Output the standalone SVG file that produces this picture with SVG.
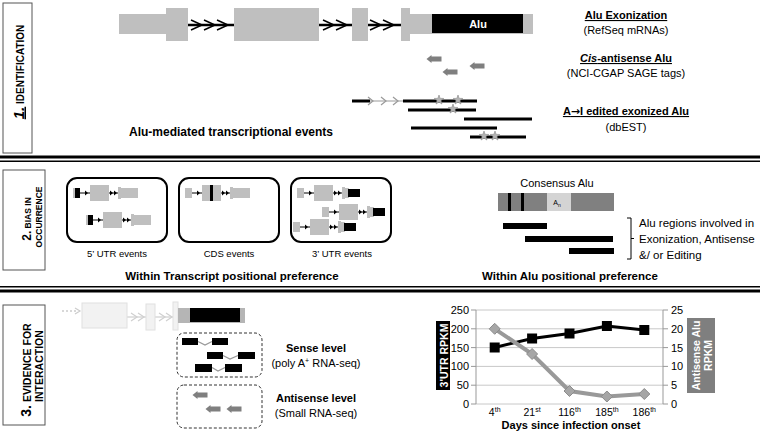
<svg xmlns="http://www.w3.org/2000/svg" width="760" height="435" viewBox="0 0 760 435">
<style>
text{font-family:"Liberation Sans",Arial,sans-serif;fill:#000}
.b{font-weight:bold}
.ex{fill:#bfbfbf}
.ln{stroke:#000;stroke-width:2.5;fill:none}
.chev{stroke:#000;stroke-width:1.5;fill:none}
.lbl{fill:#fff;stroke:#555;stroke-width:1}
.ev{stroke:#000;stroke-width:3}
.star{fill:#b3b3b3;stroke:#888;stroke-width:0.6}
.garr{fill:#7f7f7f}
.box{fill:none;stroke:#000;stroke-width:2}
.dbox{fill:none;stroke:#333;stroke-width:1;stroke-dasharray:3,2}
.grid{stroke:#c8c8c8;stroke-width:1}
.ax{stroke:#999;stroke-width:1}
</style>
<defs>
<path id="star" class="star" d="M0,-5 L1.18,-1.62 L4.76,-1.55 L1.9,0.62 L2.94,4.05 L0,2 L-2.94,4.05 L-1.9,0.62 L-4.76,-1.55 L-1.18,-1.62 Z"/>
<path id="larr" class="garr" d="M-7.5,0 L-2.5,-4 L-2.5,-2.5 L7.5,-2.5 L7.5,2.5 L-2.5,2.5 L-2.5,4 Z"/>
<path id="chv" class="chev" d="M-11,-5 L0,0 L-11,5"/>
<path id="mtri" d="M-3,-2.5 L0,0 L-3,2.5 Z" fill="#000"/>
<g id="mini">
<rect class="ex" x="0" y="-5" width="7" height="10"/>
<line x1="7" y1="0" x2="17" y2="0" stroke="#000" stroke-width="1"/>
<use href="#mtri" x="15" y="0"/>
<rect class="ex" x="17" y="-8" width="19" height="16"/>
<line x1="36" y1="0" x2="45" y2="0" stroke="#000" stroke-width="1"/>
<use href="#mtri" x="40" y="0"/>
<use href="#mtri" x="44" y="0"/>
<rect class="ex" x="45" y="-6" width="3" height="12"/>
</g>
<g id="tail"><rect class="ex" x="48" y="-5" width="17" height="10"/></g>
<g id="tail3"><rect class="ex" x="48" y="-5" width="4" height="10"/><rect x="51" y="-4" width="12" height="8" fill="#000"/></g>
<path id="dia" d="M0,-5.5 L5.5,0 L0,5.5 L-5.5,0 Z" fill="#a6a6a6" stroke="#8c8c8c" stroke-width="1"/>
</defs>

<!-- section separators -->
<g id="separators">
<rect x="0" y="155.5" width="760" height="3" fill="#000"/>
<rect x="0" y="160.5" width="760" height="1.5" fill="#000"/>
<rect x="0" y="286" width="760" height="1.5" fill="#000"/>
<rect x="0" y="289.5" width="760" height="3" fill="#000"/>
</g>

<!-- section labels -->
<g id="label1">
<rect class="lbl" x="3" y="3" width="29" height="150"/>
<text class="b" transform="translate(23.5,72) rotate(-90)" text-anchor="middle"><tspan font-size="15" font-style="italic" text-decoration="underline">1.</tspan><tspan font-size="10"> IDENTIFICATION</tspan></text>
</g>
<g id="label2">
<rect class="lbl" x="3" y="170" width="42" height="100"/>
<text class="b" transform="translate(30.5,219) rotate(-90)" text-anchor="middle"><tspan font-size="12">2.</tspan><tspan font-size="8.5"> BIAS IN</tspan></text>
<text class="b" font-size="8.5" transform="translate(41.5,217) rotate(-90)" text-anchor="middle">OCCURRENCE</text>
</g>
<g id="label3">
<rect class="lbl" x="3" y="305" width="42" height="120"/>
<text class="b" transform="translate(30.5,370) rotate(-90)" text-anchor="middle"><tspan font-size="14">3.</tspan><tspan font-size="10.5"> EVIDENCE FOR</tspan></text>
<text class="b" font-size="10.5" transform="translate(42.5,366) rotate(-90)" text-anchor="middle">INTERACTION</text>
</g>

<!-- Section 1: gene structure -->
<g id="gene">
<line class="ln" x1="188" y1="25" x2="234" y2="25"/>
<line class="ln" x1="319" y1="25" x2="352" y2="25"/>
<line class="ln" x1="368" y1="25" x2="401" y2="25"/>
<use href="#chv" x="202" y="25"/><use href="#chv" x="215" y="25"/><use href="#chv" x="228" y="25"/>
<use href="#chv" x="334" y="25"/><use href="#chv" x="347" y="25"/>
<use href="#chv" x="381" y="25"/><use href="#chv" x="394" y="25"/>
<rect class="ex" x="119" y="14" width="47" height="20"/>
<rect class="ex" x="166" y="8" width="22" height="33"/>
<rect class="ex" x="234" y="8" width="85" height="33"/>
<rect class="ex" x="352" y="8" width="16" height="33"/>
<rect class="ex" x="401" y="8" width="9" height="33"/>
<rect class="ex" x="410" y="14" width="123" height="20"/>
<rect x="432" y="14" width="91" height="19" fill="#000"/>
<text class="b" x="478" y="28" font-size="11" text-anchor="middle" style="fill:#fff">Alu</text>
</g>

<g id="antisense-top">
<use href="#larr" x="434" y="59"/>
<use href="#larr" x="450" y="72"/>
<use href="#larr" x="477" y="66"/>
</g>

<g id="events">
<line class="ev" x1="352" y1="101" x2="370" y2="101"/>
<line x1="370" y1="101" x2="403" y2="101" stroke="#999" stroke-width="1.2"/>
<path d="M368,97 L373,101 L368,105 M381,97 L386,101 L381,105 M393,97 L398,101 L393,105" stroke="#999" stroke-width="1.2" fill="none"/>
<line class="ev" x1="403" y1="101" x2="477" y2="101"/>
<line class="ev" x1="408" y1="110" x2="476" y2="110"/>
<line class="ev" x1="464" y1="119" x2="532" y2="119"/>
<line class="ev" x1="411" y1="128" x2="497" y2="128"/>
<line class="ev" x1="470" y1="137" x2="526" y2="137"/>
<use href="#star" x="439" y="100"/>
<use href="#star" x="458" y="100"/>
<use href="#star" x="453" y="109"/>
<use href="#star" x="484" y="136"/>
<use href="#star" x="495" y="136"/>
</g>

<g id="s1-text">
<text class="b" x="626" y="19" font-size="11" text-anchor="middle" text-decoration="underline">Alu Exonization</text>
<text x="626" y="34" font-size="11" text-anchor="middle">(RefSeq mRNAs)</text>
<text class="b" x="626" y="62" font-size="11" text-anchor="middle" text-decoration="underline"><tspan font-style="italic">Cis</tspan>-antisense Alu</text>
<text x="626" y="77" font-size="11" text-anchor="middle">(NCI-CGAP SAGE tags)</text>
<text class="b" x="626" y="115" font-size="11" text-anchor="middle" text-decoration="underline">A<tspan style="font-family:'DejaVu Sans',sans-serif">→</tspan>I edited exonized Alu</text>
<text x="626" y="131" font-size="11" text-anchor="middle">(dbEST)</text>
<text class="b" x="231" y="136" font-size="12" text-anchor="middle">Alu-mediated transcriptional events</text>
</g>

<!-- Section 2 -->
<g id="box-5utr">
<rect class="box" x="67" y="178" width="100" height="64" rx="10"/>
<use href="#mini" x="73" y="193"/><use href="#tail" x="73" y="193"/>
<rect x="75" y="188" width="5" height="10" fill="#000"/>
<use href="#mini" x="86" y="220"/><use href="#tail" x="86" y="220"/>
<rect x="88" y="215" width="5" height="10" fill="#000"/>
<text x="117" y="257" font-size="9.5" text-anchor="middle">5’ UTR events</text>
</g>
<g id="box-cds">
<rect class="box" x="179" y="178" width="100" height="64" rx="10"/>
<use href="#mini" x="185" y="193"/><use href="#tail" x="185" y="193"/>
<rect x="210" y="185" width="3" height="16" fill="#000"/>
<text x="229" y="257" font-size="9.5" text-anchor="middle">CDS events</text>
</g>
<g id="box-3utr">
<rect class="box" x="291" y="178" width="100" height="64" rx="10"/>
<use href="#mini" x="297" y="193"/><use href="#tail3" x="297" y="193"/>
<use href="#mini" x="322" y="212"/><use href="#tail3" x="322" y="212"/>
<use href="#mini" x="293" y="227"/><use href="#tail3" x="293" y="227"/>
<text x="342" y="257" font-size="9.5" text-anchor="middle">3’ UTR events</text>
</g>
<text class="b" x="232" y="280" font-size="11.5" text-anchor="middle">Within Transcript positional preference</text>

<g id="consensus">
<text x="557" y="187" font-size="11" text-anchor="middle">Consensus Alu</text>
<rect x="498" y="193" width="116" height="18" fill="#808080"/>
<rect x="547" y="193" width="24" height="18" fill="#d4d4d4"/>
<rect x="508" y="193" width="3" height="18" fill="#000"/>
<rect x="521" y="193" width="3" height="18" fill="#000"/>
<text x="557" y="205" font-size="7" text-anchor="middle">A<tspan font-size="5" dy="1.5">n</tspan></text>
<rect x="503" y="223" width="44" height="6" fill="#000"/>
<rect x="525" y="236" width="88" height="6" fill="#000"/>
<rect x="569" y="248" width="45" height="6" fill="#000"/>
<path d="M627,218 L631,218 L631,259 L627,259 M631,238.5 L634,238.5" stroke="#000" stroke-width="1" fill="none"/>
<text x="639" y="227" font-size="11.5">Alu regions involved in</text>
<text x="639" y="243" font-size="11.5">Exonization, Antisense</text>
<text x="639" y="259" font-size="11.5">&amp;/ or Editing</text>
<text class="b" x="482" y="280" font-size="11.5">Within Alu positional preference</text>
</g>

<!-- Section 3 -->
<g id="gene-faded">
<path d="M62,311 L76,311" stroke="#ccc" stroke-width="1.5" stroke-dasharray="2,2"/>
<path d="M75,308 L80,311 L75,314" stroke="#ccc" stroke-width="1.2" fill="none"/>
<line x1="127" y1="317" x2="146" y2="317" stroke="#d9d9d9" stroke-width="1.5"/>
<line x1="155" y1="317" x2="173" y2="317" stroke="#d9d9d9" stroke-width="1.5"/>
<path d="M131,313 L137,317 L131,321 M138,313 L144,317 L138,321 M159,313 L165,317 L159,321 M166,313 L172,317 L166,321" stroke="#d0d0d0" stroke-width="1.2" fill="none"/>
<rect x="82" y="303" width="45" height="25" fill="#f2f2f2" stroke="#e0e0e0"/>
<rect x="146" y="304" width="9" height="26" fill="#f2f2f2" stroke="#e0e0e0"/>
<rect x="173" y="302" width="5" height="28" fill="#f2f2f2" stroke="#e0e0e0"/>
<rect x="178" y="308" width="67" height="15" fill="#b5b5b5"/>
<rect x="190" y="308" width="50" height="14" fill="#000"/>
</g>

<g id="sense-box">
<rect class="dbox" x="177" y="333" width="85" height="44" rx="7"/>
<path d="M198,341.5 L205,345 L212,341.5" stroke="#999" stroke-width="1.3" fill="none"/>
<path d="M223,355.5 L230,359 L238,355.5" stroke="#999" stroke-width="1.3" fill="none"/>
<path d="M212,367.5 L218,371 L225,367.5" stroke="#999" stroke-width="1.3" fill="none"/>
<rect x="182" y="338" width="16" height="7" fill="#000"/>
<rect x="212" y="338" width="16" height="7" fill="#000"/>
<rect x="207" y="352" width="16" height="7" fill="#000"/>
<rect x="238" y="352" width="17" height="7" fill="#000"/>
<rect x="195" y="364" width="17" height="8" fill="#000"/>
<rect x="225" y="364" width="17" height="8" fill="#000"/>
</g>
<g id="antisense-box">
<rect class="dbox" x="177" y="385" width="85" height="43" rx="7"/>
<use href="#larr" x="200" y="395"/>
<use href="#larr" x="213" y="409"/>
<use href="#larr" x="234" y="409"/>
</g>
<g id="s3-text">
<text class="b" x="316" y="352" font-size="11" text-anchor="middle">Sense level</text>
<text x="316" y="367" font-size="11" text-anchor="middle">(poly A<tspan font-size="7" dy="-4">+</tspan><tspan dy="4"> RNA-seq)</tspan></text>
<text class="b" x="316" y="402" font-size="11" text-anchor="middle">Antisense level</text>
<text x="316" y="417" font-size="11" text-anchor="middle">(Small RNA-seq)</text>
</g>

<!-- chart -->
<g id="chart">
<g class="grid">
<line x1="476" y1="310" x2="663" y2="310"/>
<line x1="476" y1="328.8" x2="663" y2="328.8"/>
<line x1="476" y1="347.6" x2="663" y2="347.6"/>
<line x1="476" y1="366.4" x2="663" y2="366.4"/>
<line x1="476" y1="385.2" x2="663" y2="385.2"/>
<line x1="476" y1="404" x2="663" y2="404"/>
</g>
<g class="ax">
<line x1="476" y1="310" x2="476" y2="404"/>
<line x1="663" y1="310" x2="663" y2="404"/>
<path d="M471,310 H476 M471,328.8 H476 M471,347.6 H476 M471,366.4 H476 M471,385.2 H476 M471,404 H476 M663,310 H668 M663,328.8 H668 M663,347.6 H668 M663,366.4 H668 M663,385.2 H668 M663,404 H668"/>
</g>
<g font-size="11" text-anchor="end">
<text x="469" y="314">250</text>
<text x="469" y="332.8">200</text>
<text x="469" y="351.6">150</text>
<text x="469" y="370.4">100</text>
<text x="469" y="389.2">50</text>
<text x="469" y="408">0</text>
</g>
<g font-size="11">
<text x="671" y="314">25</text>
<text x="671" y="332.8">20</text>
<text x="671" y="351.6">15</text>
<text x="671" y="370.4">10</text>
<text x="671" y="389.2">5</text>
<text x="671" y="408">0</text>
</g>
<rect x="436" y="321" width="14" height="69" fill="#000"/>
<text class="b" font-size="10.5" transform="translate(447.5,355.5) rotate(-90)" text-anchor="middle" style="fill:#fff">3'UTR RPKM</text>
<rect x="687" y="318" width="28" height="75" fill="#7f7f7f"/>
<text class="b" font-size="10.5" transform="translate(699.5,355.5) rotate(-90)" text-anchor="middle" style="fill:#fff">Antisense Alu</text>
<text class="b" font-size="10.5" transform="translate(711.5,355.5) rotate(-90)" text-anchor="middle" style="fill:#fff">RPKM</text>
<polyline points="494.7,347.5 532.1,338.5 569.5,333.5 606.9,326 644.3,330" fill="none" stroke="#000" stroke-width="3"/>
<g fill="#000">
<rect x="489.7" y="342.5" width="10" height="10"/>
<rect x="527.1" y="333.5" width="10" height="10"/>
<rect x="564.5" y="328.5" width="10" height="10"/>
<rect x="601.9" y="321" width="10" height="10"/>
<rect x="639.3" y="325" width="10" height="10"/>
</g>
<polyline points="494.7,328.8 532.1,354 569.5,391 606.9,396.5 644.3,394" fill="none" stroke="#999" stroke-width="4"/>
<use href="#dia" x="494.7" y="328.8"/>
<use href="#dia" x="532.1" y="354"/>
<use href="#dia" x="569.5" y="391"/>
<use href="#dia" x="606.9" y="396.5"/>
<use href="#dia" x="644.3" y="394"/>
<g font-size="10.5" text-anchor="middle">
<text x="494.7" y="416">4<tspan font-size="7" dy="-4">th</tspan></text>
<text x="532.1" y="416">21<tspan font-size="7" dy="-4">st</tspan></text>
<text x="569.5" y="416">116<tspan font-size="7" dy="-4">th</tspan></text>
<text x="606.9" y="416">185<tspan font-size="7" dy="-4">th</tspan></text>
<text x="644.3" y="416">186<tspan font-size="7" dy="-4">th</tspan></text>
</g>
<text class="b" x="571" y="429" font-size="11" text-anchor="middle">Days since infection onset</text>
</g>
</svg>
